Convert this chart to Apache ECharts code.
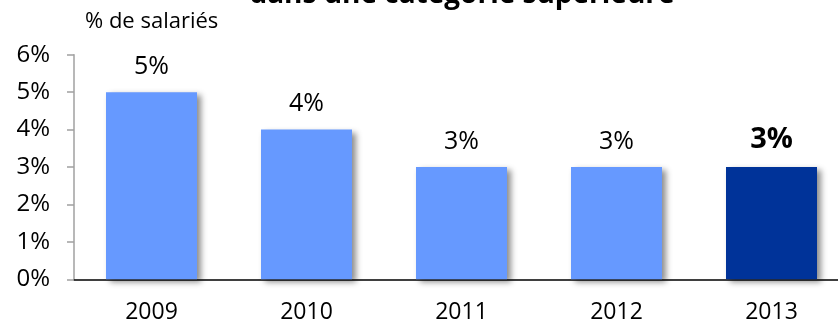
<!DOCTYPE html>
<html>
<head>
<meta charset="utf-8">
<script src="https://cdn.jsdelivr.net/npm/echarts@6/dist/echarts.min.js"></script>
<style>
  html, body { margin: 0; padding: 0; background: #fff; }
  #chart { width: 838px; height: 328px; }
</style>
</head>
<body>
<div id="chart"></div>
<script>
// données
var years = ['2009', '2010', '2011', '2012', '2013'];
var values = [5, 4, 3, 3, 3];
var yTicks = [0, 1, 2, 3, 4, 5, 6];
var highlightYear = '2013';

var font = 'Open Sans';

var myChart = echarts.init(document.getElementById('chart'));

var data = values.map(function (v, i) {
	var hi = years[i] === highlightYear;
	return {
		value: v,
		itemStyle: { color: hi ? '#003399' : '#6699FF' },
		label: hi ? { fontWeight: 'bold', fontSize: 29 } : {}
	};
});

var option = {
	backgroundColor: '#fff',
	animation: false,
	// titre coupé en haut de l'image
	graphic: [
		{
			type: 'text',
			x: 462,
			y: -5,
			style: {
				text: 'dans une catégorie supérieure',
				align: 'center',
				verticalAlign: 'middle',
				fontFamily: font,
				fontSize: 28,
				fontWeight: 'bold',
				fill: '#000'
			}
		}
	],
	title: {
		text: '% de salariés',
		left: 80,
		top: 6,
		textStyle: { fontFamily: font, fontSize: 22, fontWeight: 'normal', color: '#000' }
	},
	grid: { left: 74, width: 775, top: 54.7, bottom: 48.7, outerBoundsMode: 'none' },
	xAxis: {
		type: 'category',
		data: years,
		axisLine: { lineStyle: { color: '#000', width: 1.5 } },
		axisTick: { length: 8, lineStyle: { color: '#000', width: 1.5 } },
		axisLabel: { margin: 22, fontFamily: font, fontSize: 23, color: '#000' },
		splitLine: { show: false }
	},
	yAxis: {
		type: 'value',
		min: yTicks[0],
		max: yTicks[yTicks.length - 1],
		interval: 1,
		axisLine: { show: true, lineStyle: { color: '#a0a0a0', width: 1.5 } },
		axisTick: { show: true, length: 7, lineStyle: { color: '#a0a0a0', width: 1.5 } },
		axisLabel: {
			margin: 24,
			fontFamily: font,
			fontSize: 24,
			color: '#000',
			formatter: function (v) { return v + '%'; }
		},
		splitLine: { show: false }
	},
	series: [
		{
			type: 'bar',
			barWidth: 91,
			data: data,
			itemStyle: {
				shadowColor: 'rgba(0,0,0,0.45)',
				shadowBlur: 6,
				shadowOffsetX: 4,
				shadowOffsetY: 3
			},
			label: {
				show: true,
				position: 'top',
				distance: 13,
				fontFamily: font,
				fontSize: 25,
				color: '#000',
				formatter: function (p) { return p.value + '%'; }
			}
		}
	]
};

myChart.setOption(option);
</script>
</body>
</html>
